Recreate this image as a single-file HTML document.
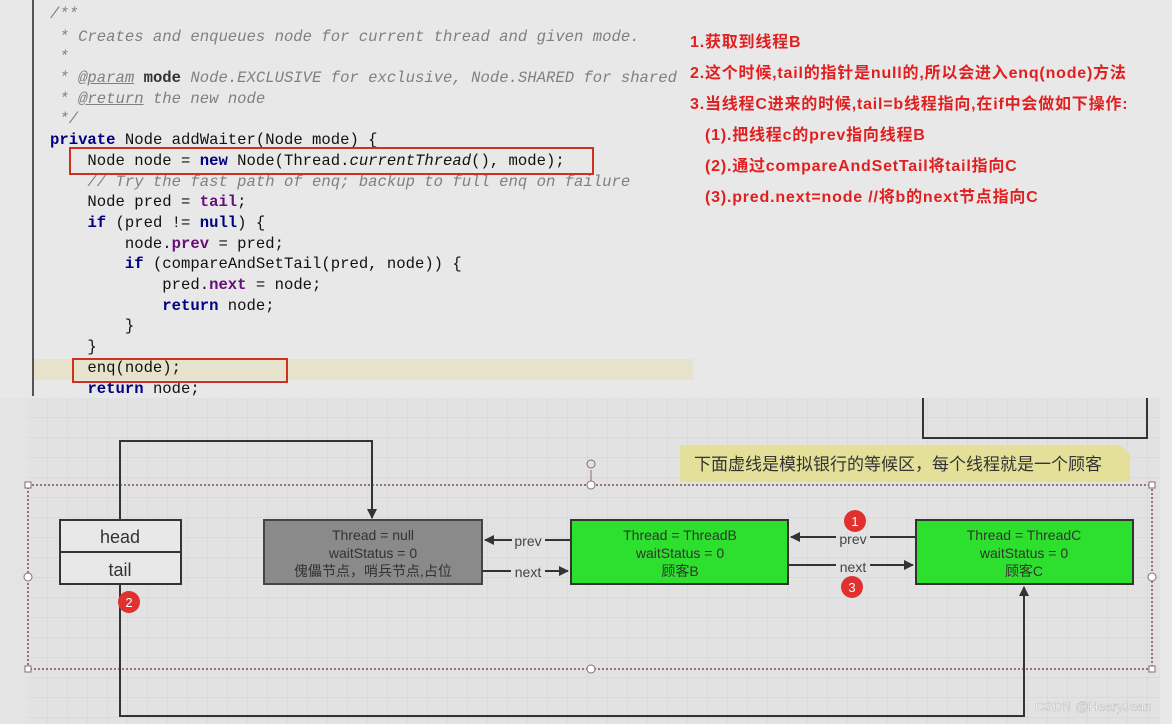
<!DOCTYPE html>
<html><head><meta charset="utf-8"><style>
body{margin:0;width:1172px;height:724px;overflow:hidden;background:#e4e4e4;position:relative;font-family:"Liberation Sans","Noto Sans CJK SC",sans-serif}
.code{position:absolute;left:0;top:0;width:1172px;height:398px;background:#e8e8e8}
.ln{position:absolute;left:50px;font-family:"Liberation Mono",monospace;font-size:15.6px;white-space:pre;color:#111;line-height:20px}
.c{color:#808080;font-style:italic}
.k{color:#000080;font-weight:bold}
.f{color:#660e7a;font-weight:bold}
.r{position:absolute;left:690px;color:#e02020;font-weight:bold;font-size:16px;letter-spacing:0.8px;white-space:nowrap;font-family:"Liberation Sans","Noto Sans CJK SC",sans-serif}
</style></head><body>
<div class="code"></div>
<div style="position:absolute;left:33px;top:359px;width:660px;height:21px;background:#e6e2cc"></div>
<div style="position:absolute;left:32px;top:0;width:2px;height:396px;background:#555"></div>
<div class="ln c" style="top:4px">/**</div>
<div class="ln c" style="top:27px"> * Creates and enqueues node for current thread and given mode.</div>
<div class="ln c" style="top:47px"> *</div>
<div class="ln c" style="top:68px"> * <u>@param</u> <b style="color:#333;font-style:normal">mode</b> Node.EXCLUSIVE for exclusive, Node.SHARED for shared</div>
<div class="ln c" style="top:89px"> * <u>@return</u> the new node</div>
<div class="ln c" style="top:109px"> */</div>
<div class="ln" style="top:130px"><span class="k">private</span> Node addWaiter(Node mode) {</div>
<div class="ln" style="top:151px">    Node node = <span class="k">new</span> Node(Thread.<i>currentThread</i>(), mode);</div>
<div class="ln c" style="top:172px">    // Try the fast path of enq; backup to full enq on failure</div>
<div class="ln" style="top:192px">    Node pred = <span class="f">tail</span>;</div>
<div class="ln" style="top:213px">    <span class="k">if</span> (pred != <span class="k">null</span>) {</div>
<div class="ln" style="top:234px">        node.<span class="f">prev</span> = pred;</div>
<div class="ln" style="top:254px">        <span class="k">if</span> (compareAndSetTail(pred, node)) {</div>
<div class="ln" style="top:275px">            pred.<span class="f">next</span> = node;</div>
<div class="ln" style="top:296px">            <span class="k">return</span> node;</div>
<div class="ln" style="top:316px">        }</div>
<div class="ln" style="top:337px">    }</div>
<div class="ln" style="top:358px">    enq(node);</div>
<div class="ln" style="top:379px">    <span class="k">return</span> node;</div>
<div style="position:absolute;left:69px;top:147px;width:521px;height:24px;border:2px solid #d03020"></div>
<div style="position:absolute;left:72px;top:358px;width:212px;height:21px;border:2px solid #d03020"></div>
<div class="r" style="top:28px">1.获取到线程B</div>
<div class="r" style="top:59px">2.这个时候,tail的指针是null的,所以会进入enq(node)方法</div>
<div class="r" style="top:90px">3.当线程C进来的时候,tail=b线程指向,在if中会做如下操作:</div>
<div class="r" style="top:121px;left:705px">(1).把线程c的prev指向线程B</div>
<div class="r" style="top:152px;left:705px">(2).通过compareAndSetTail将tail指向C</div>
<div class="r" style="top:183px;left:705px">(3).pred.next=node //将b的next节点指向C</div>
<svg style="position:absolute;left:0;top:0" width="1172" height="724">
<defs>
<pattern id="g" width="20" height="20" patternUnits="userSpaceOnUse" x="28" y="398"><path d="M20 0V20H0" fill="none" stroke="#d2d2d2" stroke-width="1"/></pattern>
<marker id="a" markerWidth="10" markerHeight="10" refX="9" refY="5" orient="auto" markerUnits="userSpaceOnUse"><path d="M0 0L10 5L0 10z" fill="#333"/></marker>
</defs>
<rect x="28" y="398" width="1132" height="326" fill="#e2e2e2"/>
<rect x="28" y="398" width="1132" height="326" fill="url(#g)"/>
<path d="M923 398V438H1147V398" fill="none" stroke="#333" stroke-width="2"/>
<path d="M680 445H1120L1130 455V482H680z" fill="#e4e09a"/>
<text x="694" y="470" font-size="17" fill="#333" font-family="Noto Sans CJK SC,sans-serif">下面虚线是模拟银行的等候区，每个线程就是一个顾客</text>
<rect x="28" y="485" width="1124" height="184" fill="none" stroke="#7a5050" stroke-width="1.5" stroke-dasharray="2 2"/>
<line x1="591" y1="470" x2="591" y2="485" stroke="#8a6a6a"/>
<circle cx="591" cy="464" r="4" fill="none" stroke="#8a6a6a"/>
<g fill="#fff" stroke="#8a6a6a"><circle cx="591" cy="485" r="4"/><circle cx="591" cy="669" r="4"/><circle cx="28" cy="577" r="4"/><circle cx="1152" cy="577" r="4"/>
<rect x="25" y="482" width="6" height="6"/><rect x="1149" y="482" width="6" height="6"/><rect x="25" y="666" width="6" height="6"/><rect x="1149" y="666" width="6" height="6"/></g>
<path d="M120 520V441H372V518" fill="none" stroke="#333" stroke-width="2" marker-end="url(#a)"/>
<path d="M120 584V716H1024V587" fill="none" stroke="#333" stroke-width="2" marker-end="url(#a)"/>
<rect x="60" y="520" width="121" height="64" fill="#e8e8e8" stroke="#333" stroke-width="2"/>
<line x1="60" y1="552" x2="181" y2="552" stroke="#333" stroke-width="2"/>
<text x="120" y="543" font-size="18" text-anchor="middle" fill="#333">head</text>
<text x="120" y="576" font-size="18" text-anchor="middle" fill="#333">tail</text>
<rect x="264" y="520" width="218" height="64" fill="#8a8a8a" stroke="#444" stroke-width="2"/>
<g font-size="14" text-anchor="middle" fill="#333"><text x="373" y="540">Thread = null</text><text x="373" y="558">waitStatus = 0</text><text x="373" y="576">傀儡节点，哨兵节点,占位</text></g>
<rect x="571" y="520" width="217" height="64" fill="#2ee02e" stroke="#333" stroke-width="2"/>
<g font-size="14" text-anchor="middle" fill="#333"><text x="680" y="540">Thread = ThreadB</text><text x="680" y="558">waitStatus = 0</text><text x="680" y="576">顾客B</text></g>
<rect x="916" y="520" width="217" height="64" fill="#2ee02e" stroke="#333" stroke-width="2"/>
<g font-size="14" text-anchor="middle" fill="#333"><text x="1024" y="540">Thread = ThreadC</text><text x="1024" y="558">waitStatus = 0</text><text x="1024" y="576">顾客C</text></g>
<g stroke="#333" stroke-width="2" fill="none">
<path d="M571 540H545M512 540H485" marker-end="url(#a)"/>
<path d="M482 571H511M545 571H568" marker-end="url(#a)"/>
<path d="M916 537H870M836 537H791" marker-end="url(#a)"/>
<path d="M788 565H836M870 565H913" marker-end="url(#a)"/>
</g>
<g font-size="14" fill="#444" text-anchor="middle"><text x="528" y="546">prev</text><text x="528" y="577">next</text><text x="853" y="544">prev</text><text x="853" y="572">next</text></g>
<g fill="#e03030"><circle cx="129" cy="602" r="11"/><circle cx="855" cy="521" r="11"/><circle cx="852" cy="587" r="11"/></g>
<g fill="#fff" font-size="13" text-anchor="middle"><text x="129" y="607">2</text><text x="855" y="526">1</text><text x="852" y="592">3</text></g>
<rect x="1160" y="398" width="12" height="326" fill="#e8e8e8"/>
<text x="1035" y="711" font-size="13" fill="#fff" stroke="#999" stroke-width="0.3">CSDN @HearyJean</text>
</svg>
</body></html>
